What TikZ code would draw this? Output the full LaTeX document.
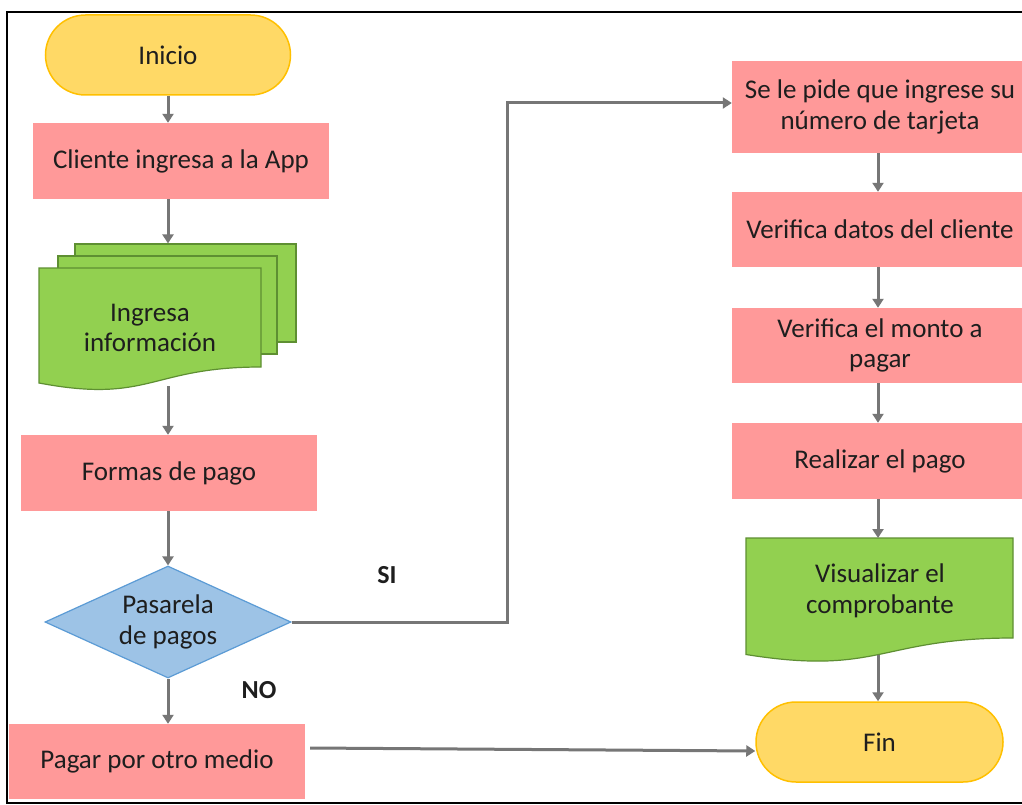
\documentclass[tikz,border=0pt]{standalone}
\usepackage{fontspec}
\setmainfont{Carlito}
\usetikzlibrary{shapes.geometric,arrows.meta}
\definecolor{termfill}{HTML}{FFD966}
\definecolor{termline}{HTML}{FFC000}
\definecolor{procfill}{HTML}{FF9999}
\definecolor{docfill}{HTML}{92D050}
\definecolor{docline}{HTML}{5E8F32}
\definecolor{decfill}{HTML}{9DC3E6}
\definecolor{decline}{HTML}{5B9BD5}
\definecolor{flow}{HTML}{767676}
\definecolor{ink}{HTML}{1E1E1E}
\begin{document}
\begin{tikzpicture}[x=1pt,y=-1pt,
  every node/.style={font=\fontsize{27}{30.5}\selectfont, text=ink, inner sep=0pt, align=center},
  term/.style={rectangle, rounded corners=40pt, fill=termfill, draw=termline,
    line width=1.5pt, minimum width=245pt, minimum height=80pt},
  proc/.style={rectangle, fill=procfill, minimum width=296pt, minimum height=76pt},
  decision/.style={diamond, aspect=2.2, fill=decfill, draw=decline, line width=1.2pt,
    minimum width=246pt, minimum height=112pt},
  docsheet/.style={fill=docfill, draw=docline, line width=1.2pt},
  arr/.style={draw=flow, line width=3pt,
    -{Triangle[length=9pt,width=11pt]}},
  tag/.style={font=\fontsize{26}{30}\selectfont\bfseries}
]
\useasboundingbox (0,0) rectangle (1022,805);
\fill[white] (0,0) rectangle (1022,805);

% outer frame (open on the right)
\draw[line width=2.5pt] (1022,12) -- (7,12) -- (7,803) -- (1022,803);

% ---------- left column ----------
\node[term] (inicio) at (168,55) {Inicio};
\node[proc] (cliente) at (181,161) {Cliente ingresa a la App};

% stacked documents
\node[docsheet, rectangle, minimum width=221pt, minimum height=98pt] (ingback) at (185.5,293) {};
\node[docsheet, rectangle, minimum width=219pt, minimum height=98pt] (ingmid) at (167.5,305) {};
\filldraw[docsheet] (39,268) -- (261,268) -- (261,367)
  .. controls (150,367) and (150,404) .. (39,383) -- cycle;
\node (ingresa) at (150,328) {Ingresa\\información};
\coordinate (ingout) at (168,386);

\node[proc] (formas) at (169,473) {Formas de pago};
\node[decision] (dec) at (168,622) {Pasarela\\de pagos};
\node[proc, minimum height=75pt] (pagar) at (157,761.5) {Pagar por otro medio};

\node[tag] (si) at (387,575) {SI};
\node[tag] (no) at (259,690) {NO};

% ---------- right column ----------
\node[proc, minimum height=92pt] (sepide) at (880,107) {Se le pide que ingrese su\\número de tarjeta};
\node[proc, minimum height=75pt] (vdatos) at (880,229.5) {Verifica datos del cliente};
\node[proc, minimum height=75pt] (vmonto) at (880,345.5) {Verifica el monto a\\pagar};
\node[proc] (realizar) at (880,461) {Realizar el pago};

\filldraw[docsheet] (746,538) -- (1013,538) -- (1013,638)
  .. controls (879.5,638) and (879.5,676) .. (746,654.5) -- cycle;
\node (visual) at (880,591) {Visualizar el\\comprobante};
\coordinate (visin) at (878,538);
\coordinate (visout) at (878,655);

\node[term, minimum width=247pt] (fin) at (879.5,742) {Fin};

% ---------- connectors ----------
\coordinate (lspine) at (168,0);
\coordinate (rspine) at (878,0);

\draw[arr] (inicio.south) -- (lspine |- cliente.north);
\draw[arr] (lspine |- cliente.south) -- (lspine |- ingback.north);
\draw[arr] (ingout) -- (lspine |- formas.north);
\draw[arr] (lspine |- formas.south) -- (dec.north);
\draw[arr] (dec.south) -- (lspine |- pagar.north);

\coordinate (sibend) at (507,103);
\draw[arr] (dec.east) -| (sibend) -- ([yshift=4pt]sepide.west);

\draw[arr] (rspine |- sepide.south) -- (rspine |- vdatos.north);
\draw[arr] (rspine |- vdatos.south) -- (rspine |- vmonto.north);
\draw[arr] (rspine |- vmonto.south) -- (rspine |- realizar.north);
\draw[arr] (rspine |- realizar.south) -- (visin);
\draw[arr] (visout) -- (rspine |- fin.north);

\draw[arr] ([xshift=5pt,yshift=13.5pt]pagar.east) -- ([yshift=-9pt]fin.west);
\end{tikzpicture}
\end{document}
